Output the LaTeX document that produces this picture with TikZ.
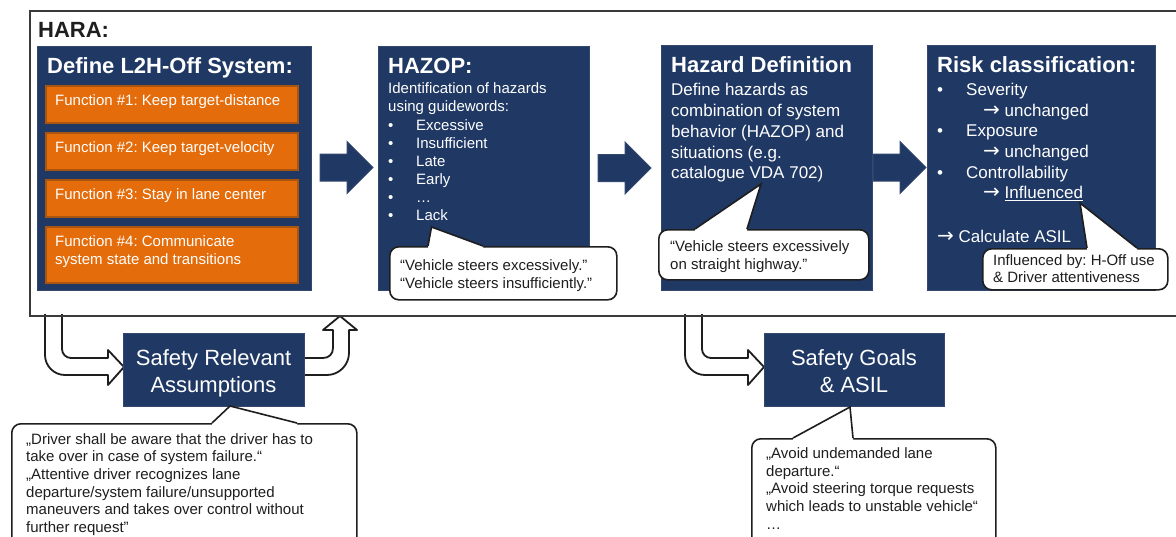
\documentclass[tikz,border=0pt]{standalone}
\usepackage{fontspec}
\setmainfont{Liberation Sans}
\newfontfamily\arrowfont{DejaVu Sans}
\usetikzlibrary{calc}
\frenchspacing

\definecolor{navy}{HTML}{1F3864}
\definecolor{navyedge}{HTML}{34486E}
\definecolor{orangefill}{HTML}{E46C0A}
\definecolor{orangeedge}{HTML}{A9550F}
\definecolor{framegray}{HTML}{3A3A3A}
\definecolor{inkgray}{HTML}{1E1E1E}

\newcommand\fsz[2]{\fontsize{#1}{#2}\selectfont}
\newcommand\rarr{{\arrowfont\fontsize{20}{21}\selectfont →}}

% pointer of a speech bubble: base left, tip, base right
\newcommand\bubbleptr[3]{%
  \fill[white] ($#1+(0,2.5)$) -- #1 -- #2 -- #3 -- ($#3+(0,2.5)$) -- cycle;
  \draw[line width=1.6pt, line join=miter, draw=inkgray] #1 -- #2 -- #3;}

\tikzset{
  bigarrow/.pic={\path[blockarrow] (0,-13.5) -- (27,-13.5) -- (27,-26) -- (53,0) -- (27,26) -- (27,13.5) -- (0,13.5) -- cycle;}
}

\begin{document}
\begin{tikzpicture}[x=1pt,y=-1pt,
  bluebox/.style={fill=navy, draw=navyedge, line width=1.2pt, anchor=north west, inner sep=0pt},
  funcbox/.style={fill=orangefill, draw=orangeedge, line width=1.5pt, anchor=north west, inner sep=0pt, minimum width=252pt},
  title/.style={anchor=base west, inner sep=0pt, text=white, font=\bfseries\fsz{22}{26}},
  body/.style={anchor=base west, inner sep=0pt, text=white, font=\fsz{15}{18}},
  bodyl/.style={anchor=base west, inner sep=0pt, text=white, font=\fsz{17}{21}},
  big/.style={anchor=base, inner sep=0pt, text=white, font=\fsz{22}{27}},
  note/.style={anchor=base west, inner sep=0pt, text=inkgray, font=\fsz{15}{18}},
  notebox/.style={fill=white, draw=inkgray, line width=1.6pt, rounded corners=9pt, anchor=north west, inner sep=0pt},
  blockarrow/.style={fill=navy, draw=navyedge, line width=1pt},
  hollow/.style={fill=white, draw=inkgray, line width=1.8pt, line join=round}
]
\useasboundingbox (0,0) rectangle (1176,536);
\clip (0,0) rectangle (1176,536);

% ---------- hollow U-turn arrows below the frame ----------
\filldraw[hollow] (45,314) -- (45,355) .. controls (45,366) and (54,375) .. (65,375)
  -- (108,375) -- (108,385) -- (124,367) -- (108,350) -- (108,358) -- (71,358)
  .. controls (66,358) and (62,354) .. (62,349) -- (62,314);
\filldraw[hollow] (304,358) -- (323,358) .. controls (329,358) and (333,354) .. (333,348)
  -- (333,330) -- (323,330) -- (340,316) -- (357,330) -- (349,330) -- (349,353)
  .. controls (349,365) and (339,375) .. (327,375) -- (304,375);
\filldraw[hollow] (685,314) -- (685,355) .. controls (685,366) and (694,375) .. (705,375)
  -- (748,375) -- (748,385) -- (764,367) -- (748,350) -- (748,358) -- (711,358)
  .. controls (706,358) and (702,354) .. (702,349) -- (702,314);

% ---------- HARA frame ----------
\node[draw=framegray, line width=2pt, anchor=north west, inner sep=0pt,
      minimum width=1160pt, minimum height=305pt] (hara) at (29,10) {};
\node[anchor=base west, inner sep=0pt, text=inkgray, font=\bfseries\fsz{22}{26}] (haraT) at (38,37) {HARA:};

% ---------- Define L2H-Off System ----------
\node[bluebox, minimum width=274pt, minimum height=244pt] (def) at (37,46) {};
\node[title] (defT) at (47,73.5) {Define L2H-Off System:};
\node[funcbox, minimum height=37pt] (f1) at (45,85) {};
\node[funcbox, minimum height=37pt] (f2) at (45,132) {};
\node[funcbox, minimum height=37pt] (f3) at (45,179) {};
\node[funcbox, minimum height=56pt] (f4) at (45,226) {};
\node[body] (f1T) at (55,105) {Function \#1: Keep target-distance};
\node[body] (f2T) at (55,152) {Function \#2: Keep target-velocity};
\node[body] (f3T) at (55,199) {Function \#3: Stay in lane center};
\node[body] (f4Ta) at (55,246) {Function \#4: Communicate};
\node[body] (f4Tb) at (55,264) {system state and transitions};

\pic (a1) at (320,167.5) {bigarrow};

% ---------- HAZOP ----------
\node[bluebox, minimum width=211pt, minimum height=244pt] (hz) at (378,46) {};
\node[title] (hzT) at (388,73.5) {HAZOP:};
\node[body] (hzL1) at (388,93.5) {Identification of hazards};
\node[body] (hzL2) at (388,111.5) {using guidewords:};
\foreach \w [count=\i] in {Excessive,Insufficient,Late,Early,…,Lack}{
  \node[body] (hzB\i) at (388,112+18*\i) {•};
  \node[body] (hzW\i) at (416,112+18*\i) {\w};
}

\pic (a2) at (598,168) {bigarrow};

% ---------- Hazard Definition ----------
\node[bluebox, minimum width=211pt, minimum height=245pt] (hd) at (661,45) {};
\node[title] (hdT) at (671,72) {Hazard Definition};
\node[bodyl] (hdL1) at (671,95) {Define hazards as};
\node[bodyl] (hdL2) at (671,116) {combination of system};
\node[bodyl] (hdL3) at (671,137) {behavior (HAZOP) and};
\node[bodyl] (hdL4) at (671,158) {situations (e.g.};
\node[bodyl] (hdL5) at (671,178.5) {catalogue VDA 702)};

\pic (a3) at (873,167.5) {bigarrow};

% ---------- Risk classification ----------
\node[bluebox, minimum width=228pt, minimum height=245pt] (rk) at (927,45) {};
\node[title] (rkT) at (937,72) {Risk classification:};
\node[bodyl] (rkB1) at (937,95) {•};
\node[bodyl] (rkL1) at (966,95) {Severity};
\node[bodyl] (rkL2) at (983,116) {\rarr\ unchanged};
\node[bodyl] (rkB2) at (937,136.5) {•};
\node[bodyl] (rkL3) at (966,136.5) {Exposure};
\node[bodyl] (rkL4) at (983,157) {\rarr\ unchanged};
\node[bodyl] (rkB3) at (937,178) {•};
\node[bodyl] (rkL5) at (966,178) {Controllability};
\node[bodyl] (rkL6) at (983,198.5) {\rarr\ \underline{Influenced}};
\node[bodyl] (rkL7) at (937,242) {\rarr\ Calculate ASIL};

% ---------- speech bubbles in the HARA frame ----------
\node[notebox, minimum width=227pt, minimum height=53pt] (hzN) at (389,246) {};
\coordinate (hzTip) at (431.5,227);
\bubbleptr{(428,246)}{(hzTip)}{(483,246)}
\node[note] (hzN1) at (400,270.5) {“Vehicle steers excessively.”};
\node[note] (hzN2) at (400,288) {“Vehicle steers insufficiently.”};

\node[notebox, minimum width=210pt, minimum height=50pt] (hdN) at (658,229) {};
\coordinate (hdTip) at (761,184);
\bubbleptr{(695,229)}{(hdTip)}{(747,229)}
\node[note] (hdN1) at (670,251.5) {“Vehicle steers excessively};
\node[note] (hdN2) at (670,269) {on straight highway.”};

\node[notebox, minimum width=185pt, minimum height=41pt] (rkN) at (982,248) {};
\coordinate (rkTip) at (1080,203);
\bubbleptr{(1087,248)}{(rkTip)}{(1137,248)}
\node[note] (rkN1) at (993,265.5) {Influenced by: H-Off use};
\node[note] (rkN2) at (993,282.5) {\& Driver attentiveness};

% ---------- outputs below the frame ----------
\node[bluebox, minimum width=181pt, minimum height=73pt] (sra) at (123,333) {};
\node[big] (sraT1) at (213.5,365) {Safety Relevant};
\node[big] (sraT2) at (213.5,392) {Assumptions};

\node[bluebox, minimum width=180pt, minimum height=73pt] (sg) at (764,333) {};
\node[big] (sgT1) at (854,365) {Safety Goals};
\node[big] (sgT2) at (854,392) {\& ASIL};

\node[notebox, minimum width=345pt, minimum height=140pt] (sraN) at (11,423) {};
\coordinate (sraTip) at (230,406);
\bubbleptr{(212,423)}{(sraTip)}{(297,423)}
\node[note] (sraN1) at (26,444) {„Driver shall be aware that the driver has to};
\node[note] (sraN2) at (26,461.7) {take over in case of system failure.“};
\node[note] (sraN3) at (26,479.4) {„Attentive driver recognizes lane};
\node[note] (sraN4) at (26,497.1) {departure/system failure/unsupported};
\node[note] (sraN5) at (26,514.8) {maneuvers and takes over control without};
\node[note] (sraN6) at (26,532.5) {further request”};

\node[notebox, minimum width=244pt, minimum height=130pt] (sgN) at (751,438) {};
\coordinate (sgTip) at (850,407);
\bubbleptr{(793,438)}{(sgTip)}{(853,438)}
\node[note] (sgN1) at (766,458.3) {„Avoid undemanded lane};
\node[note] (sgN2) at (766,476) {departure.“};
\node[note] (sgN3) at (766,493.7) {„Avoid steering torque requests};
\node[note] (sgN4) at (766,511.4) {which leads to unstable vehicle“};
\node[note] (sgN5) at (766,529.5) {…};
\end{tikzpicture}
\end{document}
